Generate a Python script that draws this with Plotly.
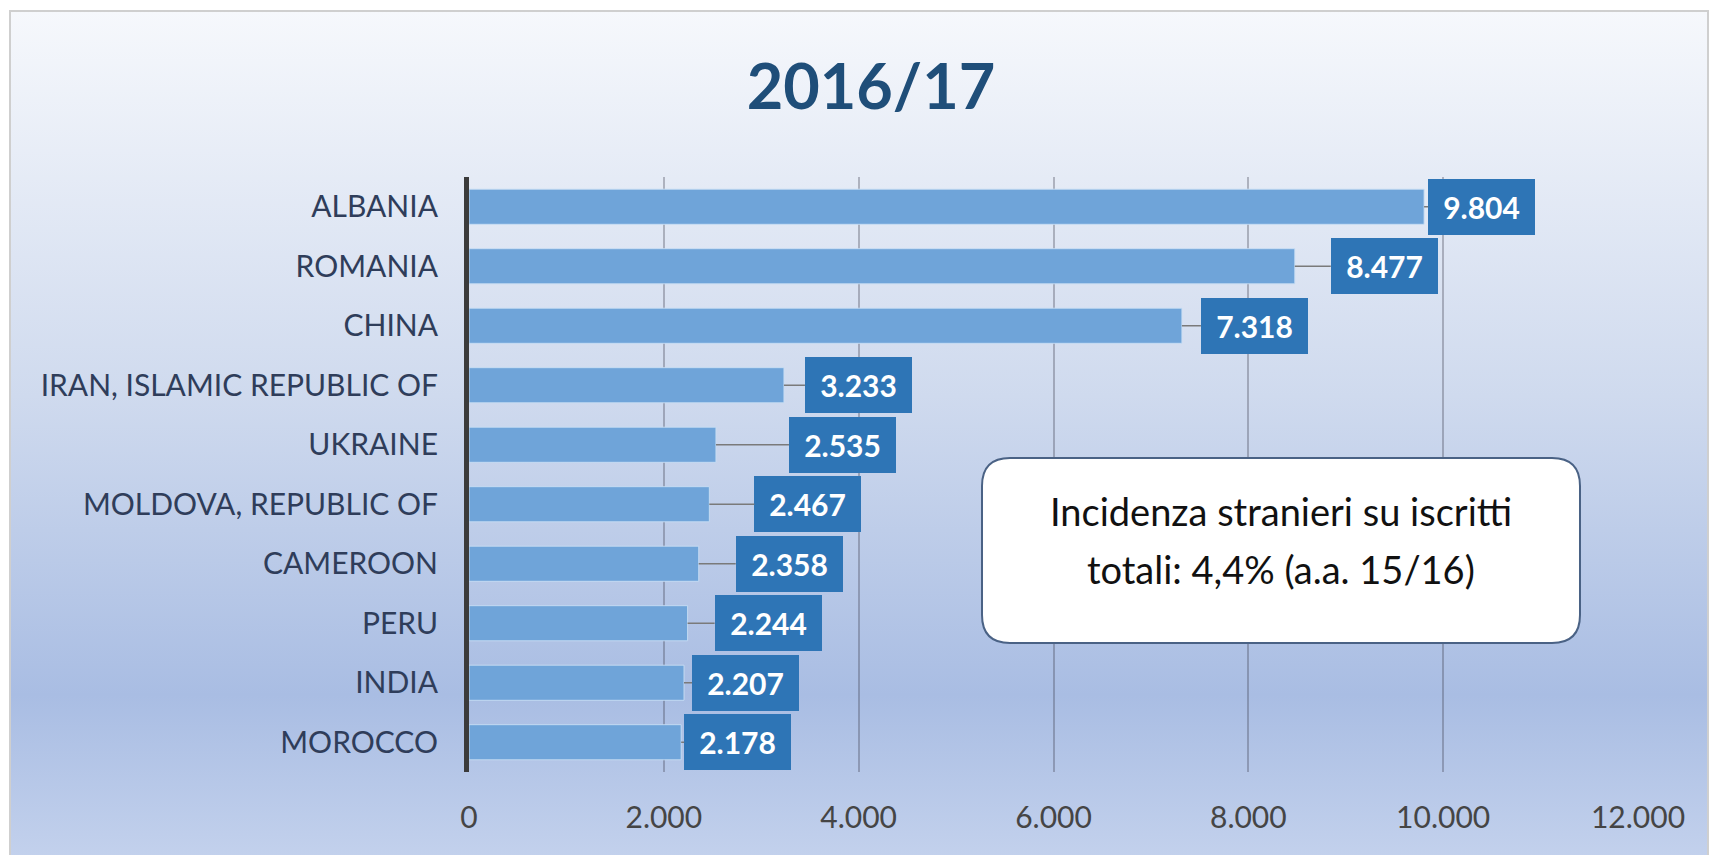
import base64
import plotly.graph_objects as go

# ---------------- data ----------------
countries = ["ALBANIA", "ROMANIA", "CHINA", "IRAN, ISLAMIC REPUBLIC OF", "UKRAINE",
             "MOLDOVA, REPUBLIC OF", "CAMEROON", "PERU", "INDIA", "MOROCCO"]
values = [9804, 8477, 7318, 3233, 2535, 2467, 2358, 2244, 2207, 2178]
x_tick_vals = [0, 2000, 4000, 6000, 8000, 10000, 12000]
title_text = "2016/17"
note_lines = ["Incidenza stranieri su iscritti", "totali: 4,4% (a.a. 15/16)"]

# ---------------- style / layout ----------------
label_gap_px = [4, 36, 19, 21, 73, 45, 37, 27, 8, 3]   # leader-line length per label
note_line_y_px = [511, 569]
W, H = 1717, 855
ML, MR, MT, MB = 469, 79, 177, 83
PW, PH = W - ML - MR, H - MT - MB
FONT = "Lato, 'Open Sans', sans-serif"
BOX_W, BOX_H = 107, 56


def it_fmt(v):
    return f"{v:,}".replace(",", ".")


def px(x):
    return (x - ML) / PW


def py(y):
    return 1 - (y - MT) / PH


fig = go.Figure()
fig.add_trace(go.Bar(
    x=values, y=countries, orientation="h",
    marker=dict(color="#6fa4d9", line=dict(color="rgba(200,222,244,0.9)", width=1)),
    hoverinfo="skip",
))

annotations = []
for c, v, g in zip(countries, values, label_gap_px):
    annotations.append(dict(
        x=v, y=c, xref="x", yref="y",
        text=it_fmt(v),
        showarrow=True, arrowhead=0, arrowwidth=1.6, arrowcolor="#7a7a7a",
        ax=g + BOX_W / 2, ay=0, axref="pixel", ayref="pixel",
        standoff=0, startstandoff=0,
        bgcolor="#2e75b6", borderpad=0, borderwidth=0,
        width=BOX_W, height=BOX_H, align="center", valign="middle",
        font=dict(family=FONT, size=30, color="white", weight="bold"),
    ))

# note box text (one annotation per line to match the line spacing)
for line, ly in zip(note_lines, note_line_y_px):
    annotations.append(dict(
        x=px(1281), y=py(ly), xref="paper", yref="paper",
        text=line, showarrow=False, align="center",
        xanchor="center", yanchor="middle",
        font=dict(family=FONT, size=38, color="#111111"),
    ))

# rounded note box
bx0, bx1, by0, by1, r = 982, 1580, 458, 643, 28
pts = [
    ("M", [(bx0 + r, by0)]), ("L", [(bx1 - r, by0)]), ("Q", [(bx1, by0), (bx1, by0 + r)]),
    ("L", [(bx1, by1 - r)]), ("Q", [(bx1, by1), (bx1 - r, by1)]),
    ("L", [(bx0 + r, by1)]), ("Q", [(bx0, by1), (bx0, by1 - r)]),
    ("L", [(bx0, by0 + r)]), ("Q", [(bx0, by0), (bx0 + r, by0)]),
]
path = " ".join(cmd + " " + " ".join(f"{px(a):.5f},{py(b):.5f}" for a, b in p) for cmd, p in pts) + " Z"

shapes = [dict(type="path", path=path, xref="paper", yref="paper",
               fillcolor="white", line=dict(color="#4a6285", width=2), layer="above")]

# background gradient as svg image
svg = f'''<svg xmlns="http://www.w3.org/2000/svg" width="{W}" height="{H}" viewBox="0 0 {W} {H}" preserveAspectRatio="none">
<defs><linearGradient id="g" x1="0" y1="0" x2="0" y2="1">
<stop offset="0" stop-color="#f6f8fc"/><stop offset="0.45" stop-color="#cfdaee"/>
<stop offset="0.80" stop-color="#a9bde3"/><stop offset="1" stop-color="#c4d2ed"/></linearGradient></defs>
<rect width="{W}" height="{H}" fill="#ffffff"/>
<rect x="10" y="11" width="1698" height="{H}" fill="url(#g)" stroke="#cfcfcf" stroke-width="2"/></svg>'''
src = "data:image/svg+xml;base64," + base64.b64encode(svg.encode()).decode()

fig.update_layout(
    width=W, height=H,
    margin=dict(l=ML, r=MR, t=MT, b=MB, pad=0),
    paper_bgcolor="white", plot_bgcolor="rgba(0,0,0,0)",
    showlegend=False, bargap=0.41,
    title=dict(text=title_text, x=871 / W, xref="container", xanchor="center",
               y=1 - 87 / H, yref="container", yanchor="middle",
               font=dict(family=FONT, size=63, color="#1f4e79", weight="bold")),
    xaxis=dict(range=[0, 12000], tickvals=x_tick_vals, ticktext=[it_fmt(v) for v in x_tick_vals],
               showgrid=True, gridcolor="rgba(60,60,75,0.32)", gridwidth=1.5,
               zeroline=False, showline=False, ticks="", ticklabelstandoff=25,
               tickfont=dict(family=FONT, size=30, color="#454545"), fixedrange=True),
    yaxis=dict(type="category", autorange="reversed", showgrid=False, zeroline=False,
               showline=True, linecolor="#3b3b3b", linewidth=5, ticks="",
               ticklabelstandoff=20,
               tickfont=dict(family=FONT, size=30, color="#2f3d5a"), fixedrange=True),
    annotations=annotations, shapes=shapes,
    images=[dict(source=src, xref="paper", yref="paper", x=-ML / PW, y=1 + MT / PH,
                 sizex=W / PW, sizey=H / PH, xanchor="left", yanchor="top",
                 sizing="stretch", layer="below")],
)

fig.write_html("out.html", config={"displayModeBar": False})
